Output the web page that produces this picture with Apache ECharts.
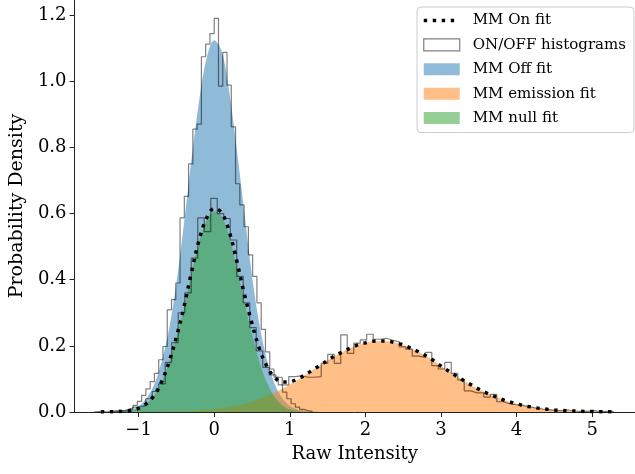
<!DOCTYPE html>
<html>
<head>
<meta charset="utf-8">
<script src="https://cdn.jsdelivr.net/npm/echarts@6/dist/echarts.min.js"></script>
<style>
  html, body { margin: 0; padding: 0; background: #fff; }
  #chart { width: 635px; height: 474px; }
</style>
</head>
<body>
<div id="chart"></div>
<script>
// Tick positions
const xTicks = [-1, 0, 1, 2, 3, 4, 5];
const yTicks = [0, 0.2, 0.4, 0.6, 0.8, 1.0, 1.2];

// Sample grid for the narrow (off-pulse / null) fits
const coreX = [-1.5, -1.4, -1.3, -1.2, -1.1, -1.0, -0.9, -0.8, -0.7, -0.6,
               -0.5, -0.4, -0.3, -0.2, -0.1, 0.0, 0.1, 0.2, 0.3, 0.4,
               0.5, 0.6, 0.7, 0.8, 0.9, 1.0, 1.1, 1.2, 1.3, 1.4];

// Mixture-model off-pulse fit
const offFit = [0, 0, 0.001, 0.003, 0.007, 0.018, 0.04, 0.08, 0.148, 0.248,
                0.39, 0.57, 0.765, 0.94, 1.07, 1.124, 1.09, 0.967, 0.792, 0.6,
                0.412, 0.262, 0.155, 0.085, 0.042, 0.019, 0.008, 0.003, 0.001, 0];

// Null component of the on-pulse fit
const nullFit = [0, 0.0005, 0.001, 0.002, 0.005, 0.011, 0.024, 0.048, 0.088, 0.148,
                 0.225, 0.315, 0.42, 0.515, 0.58, 0.607, 0.59, 0.53, 0.435, 0.33,
                 0.235, 0.15, 0.088, 0.045, 0.02, 0.008, 0.003, 0.001, 0.0005, 0];

// Sample grid for the full on-pulse range
const fullX = [-1.5, -1.4, -1.3, -1.2, -1.1, -1.0, -0.9, -0.8, -0.7, -0.6,
               -0.5, -0.4, -0.3, -0.2, -0.1, 0.0, 0.1, 0.2, 0.3, 0.4,
               0.5, 0.6, 0.7, 0.8, 0.9, 1.0, 1.1, 1.2, 1.3, 1.4,
               1.5, 1.6, 1.7, 1.8, 1.9, 2.0, 2.1, 2.2, 2.3, 2.4,
               2.5, 2.6, 2.7, 2.8, 2.9, 3.0, 3.1, 3.2, 3.3, 3.4,
               3.5, 3.6, 3.7, 3.8, 3.9, 4.0, 4.1, 4.2, 4.3, 4.4,
               4.5, 4.6, 4.7, 4.8, 4.9, 5.0, 5.1, 5.2, 5.3];

// Emission component of the on-pulse fit
const emissionFit = [0, 0, 0.0001, 0.0001, 0.0002, 0.0003, 0.0004, 0.0006, 0.0009, 0.0012,
                     0.0017, 0.0025, 0.0035, 0.0048, 0.0065, 0.0088, 0.0117, 0.0153, 0.0198, 0.0253,
                     0.0319, 0.0396, 0.0487, 0.0589, 0.0704, 0.0831, 0.0967, 0.111, 0.126, 0.141,
                     0.156, 0.170, 0.182, 0.193, 0.203, 0.209, 0.214, 0.215, 0.214, 0.209,
                     0.203, 0.193, 0.182, 0.170, 0.156, 0.139, 0.124, 0.109, 0.095, 0.082,
                     0.069, 0.058, 0.048, 0.039, 0.031, 0.025, 0.019, 0.015, 0.011, 0.0085,
                     0.0063, 0.0047, 0.0034, 0.0025, 0.0018, 0.0013, 0.0009, 0.0006, 0.0004];

// Total on-pulse fit (null + emission)
const onFit = [0.0003, 0.0006, 0.0012, 0.0022, 0.0052, 0.0113, 0.0244, 0.0486, 0.0889, 0.1492,
               0.2267, 0.3175, 0.4235, 0.5198, 0.5865, 0.6158, 0.6017, 0.5453, 0.4548, 0.3553,
               0.2669, 0.1896, 0.1367, 0.1039, 0.0904, 0.0911, 0.0997, 0.112, 0.1265, 0.141,
               0.156, 0.170, 0.182, 0.193, 0.203, 0.209, 0.214, 0.215, 0.214, 0.209,
               0.203, 0.193, 0.182, 0.170, 0.156, 0.139, 0.124, 0.109, 0.095, 0.082,
               0.069, 0.058, 0.048, 0.039, 0.031, 0.025, 0.019, 0.015, 0.011, 0.0085,
               0.0063, 0.0047, 0.0034, 0.0025, 0.0018, 0.0013, 0.0009, 0.0006, 0.0004];

// Off-pulse histogram: first bin edge, bin width, densities
const offHistStart = -1.356;
const offHistWidth = 0.0565;
const offHist = [0.001, 0.002, 0.004, 0.007, 0.012, 0.02, 0.032, 0.05, 0.07, 0.092,
                 0.117, 0.158, 0.198, 0.309, 0.34, 0.39, 0.587, 0.652, 0.75, 0.855,
                 0.87, 1.074, 1.112, 1.144, 1.19, 0.985, 1.087, 0.988, 0.862, 0.69,
                 0.626, 0.56, 0.475, 0.41, 0.33, 0.25, 0.182, 0.13, 0.105, 0.082,
                 0.06, 0.04, 0.025, 0.015, 0.008, 0.004, 0.002];

// On-pulse histogram: first bin edge, bin width, densities
const onHistStart = -1.594;
const onHistWidth = 0.086;
const onHist = [0.002, 0, 0.003, 0.005, 0.003, 0.008, 0.015, 0.02, 0.04, 0.062,
                0.085, 0.15, 0.21, 0.30, 0.36, 0.465, 0.587, 0.545, 0.646, 0.60,
                0.585, 0.52, 0.41, 0.33, 0.255, 0.185, 0.135, 0.112, 0.105, 0.082,
                0.107, 0.109, 0.105, 0.105, 0.107, 0.147, 0.174, 0.147, 0.233, 0.177,
                0.208, 0.218, 0.235, 0.22, 0.223, 0.217, 0.212, 0.197, 0.19, 0.169,
                0.165, 0.18, 0.14, 0.13, 0.15, 0.117, 0.097, 0.064, 0.058, 0.058,
                0.045, 0.053, 0.031, 0.025, 0.022, 0.02, 0.016, 0.012, 0.009, 0.007,
                0.005, 0.004, 0.006, 0.003, 0.002, 0.002, 0.004, 0.001, 0.002, 0.001];

// Axis ranges
const xMin = -1.848, xMax = 5.567;
const yMin = 0, yMax = 1.2455;

const FONT = 'DejaVu Serif';
const BLUE = 'rgba(31,119,180,0.5)';
const ORANGE = 'rgba(255,127,14,0.5)';
const GREEN = 'rgba(44,160,44,0.5)';
const HIST = 'rgba(0,0,0,0.5)';
const DOTS = [3.4, 5.6];

function zip(xs, ys) { return xs.map((x, i) => [x, ys[i]]); }

// Outline of a step histogram (up from the first edge, down at the last)
function stepOutline(start, width, dens) {
  const pts = [[start, 0]];
  dens.forEach((d, i) => {
    const a = start + i * width;
    pts.push([a, d], [a + width, d]);
  });
  pts.push([start + dens.length * width, 0]);
  return pts;
}

function fill(name, xs, ys, color) {
  return {
    name, type: 'line', data: zip(xs, ys), smooth: 0.35,
    symbol: 'none', showSymbol: false,
    itemStyle: { color },
    lineStyle: { width: 0, color },
    areaStyle: { color, opacity: 1, origin: 'start' },
    silent: true
  };
}

function hist(name, start, width, dens) {
  return {
    name, type: 'line', data: stepOutline(start, width, dens),
    symbol: 'none', showSymbol: false,
    itemStyle: { color: HIST },
    lineStyle: { color: HIST, width: 1.2 },
    silent: true
  };
}

const minus = v => String(v).replace('-', '\u2212');

const chart = echarts.init(document.getElementById('chart'), null, { renderer: 'canvas' });
chart.setOption({
  animation: false,
  backgroundColor: '#fff',
  grid: { left: 70, right: 0, top: 0, bottom: 62, containLabel: false },
  legend: {
    orient: 'vertical', left: 417, top: 7,
    padding: [6, 8, 7, 5],
    itemWidth: 36, itemHeight: 12, itemGap: 9.4,
    backgroundColor: 'rgba(255,255,255,0.8)',
    borderColor: '#cccccc', borderWidth: 1, borderRadius: 4,
    selectedMode: false,
    textStyle: { fontFamily: FONT, fontSize: 15, color: '#000', padding: [0, 0, 0, 8] },
    data: [
      { name: 'MM On fit',
        itemStyle: { color: 'rgba(0,0,0,0)', borderWidth: 0, opacity: 0 },
        lineStyle: { width: 3.5, type: DOTS, color: '#000', cap: 'butt' } },
      { name: 'ON/OFF histograms', icon: 'rect',
        itemStyle: { color: '#fff', borderColor: HIST, borderWidth: 1.2 } },
      { name: 'MM Off fit', icon: 'rect', itemStyle: { color: BLUE, borderWidth: 0 } },
      { name: 'MM emission fit', icon: 'rect', itemStyle: { color: ORANGE, borderWidth: 0 } },
      { name: 'MM null fit', icon: 'rect', itemStyle: { color: GREEN, borderWidth: 0 } }
    ]
  },
  xAxis: {
    type: 'value', min: xMin, max: xMax,
    name: 'Raw Intensity', nameLocation: 'middle', nameGap: 33,
    nameTextStyle: { fontFamily: FONT, fontSize: 18, color: '#000' },
    axisLine: { show: true, onZero: false, lineStyle: { color: '#222', width: 1 } },
    axisTick: { show: true, inside: false, length: 5, customValues: xTicks,
                lineStyle: { color: '#222', width: 1 } },
    axisLabel: { customValues: xTicks, formatter: v => minus(v),
                 fontFamily: FONT, fontSize: 18, color: '#000', margin: 9 },
    splitLine: { show: false }
  },
  yAxis: {
    type: 'value', min: yMin, max: yMax,
    name: 'Probability Density', nameLocation: 'middle', nameGap: 43,
    nameTextStyle: { fontFamily: FONT, fontSize: 19, color: '#000' },
    axisLine: { show: true, onZero: false, lineStyle: { color: '#222', width: 1 } },
    axisTick: { show: true, inside: false, length: 5, customValues: yTicks,
                lineStyle: { color: '#222', width: 1 } },
    axisLabel: { customValues: yTicks, formatter: v => v.toFixed(1),
                 fontFamily: FONT, fontSize: 18, color: '#000', margin: 8 },
    splitLine: { show: false }
  },
  series: [
    fill('MM Off fit', coreX, offFit, BLUE),
    fill('MM emission fit', fullX, emissionFit, ORANGE),
    fill('MM null fit', coreX, nullFit, GREEN),
    hist('ON/OFF histograms', offHistStart, offHistWidth, offHist),
    hist('ON/OFF histograms', onHistStart, onHistWidth, onHist),
    {
      name: 'MM On fit', type: 'line', data: zip(fullX, onFit), smooth: 0.35,
      symbol: 'none', showSymbol: false,
      itemStyle: { color: '#000' },
      lineStyle: { color: '#000', width: 3.5, type: DOTS, cap: 'butt' },
      silent: true, z: 4
    }
  ]
});
</script>
</body>
</html>
